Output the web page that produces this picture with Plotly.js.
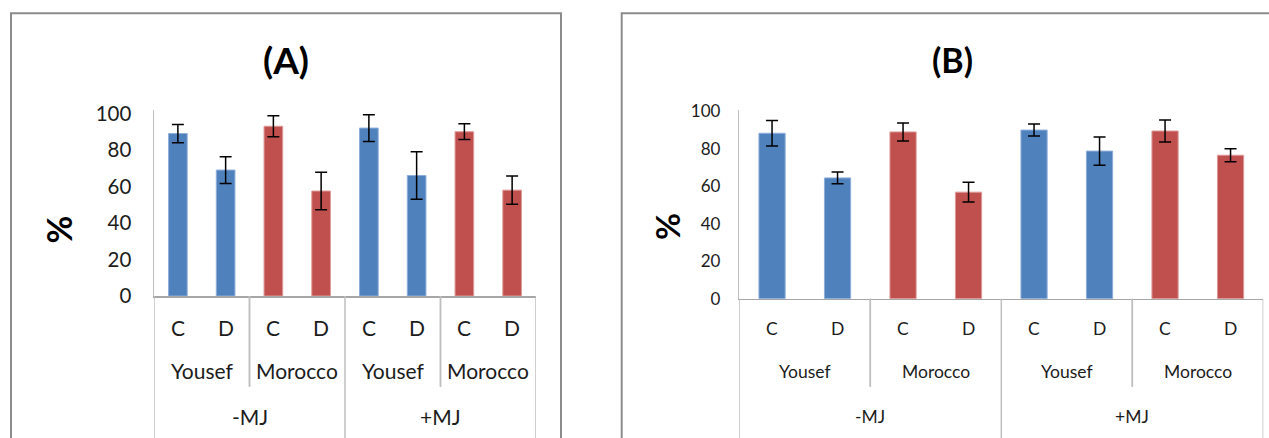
<!DOCTYPE html>
<html>
<head>
<meta charset="utf-8">
<script src="https://cdn.plot.ly/plotly-3.0.1.min.js"></script>
<style>
  html, body { margin: 0; padding: 0; background: #ffffff; }
  #chart { width: 1269px; height: 438px; }
</style>
</head>
<body>
<div id="chart"></div>
<script>
// ---- data ----
const treatments = ['-MJ', '-MJ', '-MJ', '-MJ', '+MJ', '+MJ', '+MJ', '+MJ'];
const cultivars  = ['Yousef', 'Yousef', 'Morocco', 'Morocco', 'Yousef', 'Yousef', 'Morocco', 'Morocco'];
const conditions = ['C', 'D', 'C', 'D', 'C', 'D', 'C', 'D'];

const valuesA = [89, 69, 93, 57.5, 92, 66, 90, 58];
const errorsA = [5, 7.3, 5.8, 10.3, 7.3, 13, 4.3, 7.7];

const valuesB = [88.2, 64.4, 88.9, 56.8, 89.9, 78.7, 89.4, 76.5];
const errorsB = [6.8, 3.1, 4.8, 5.3, 3.2, 7.5, 5.9, 3.5];

const yTicks = [0, 20, 40, 60, 80, 100];
const panelTitles = ['(A)', '(B)'];
const yTitle = '%';

// ---- styling ----
const W = 1269, H = 438;
const px = v => v / W;            // x pixel -> paper
const py = v => (H - v) / H;      // y pixel -> paper
const fillColors = { 'Yousef': '#4F81BD', 'Morocco': '#C0504D' };
const edgeColors = { 'Yousef': '#8EAEDA', 'Morocco': '#DE9A98' };
const FONT = 'Lato, "Open Sans", sans-serif';
const TEXT = '#1c1c1c';

const panels = [
  { xa: 'x',  ya: 'y',  values: valuesA, errors: errorsA, title: panelTitles[0],
    xdom: [px(154), px(536)], ydom: [py(296), py(110)], ymax: 101.9,
    tickSize: 20.5, catSize: 21, standoff: 17, titleSize: 37, pctSize: 34,
    box: [11, 561], titleX: 285.5, pctX: 58.5, pctY: 229,
    rows: [327.7, 370.7, 416.7], baseY: 296, innerEnd: 386.7, barW: 0.39 },
  { xa: 'x2', ya: 'y2', values: valuesB, errors: errorsB, title: panelTitles[1],
    xdom: [px(739.3), px(1263.3)], ydom: [py(298.7), py(110)], ymax: 100.6,
    tickSize: 17, catSize: 17.5, standoff: 14, titleSize: 34, pctSize: 33,
    box: [621.7, 1300], titleX: 952, pctX: 667, pctY: 227,
    rows: [328.3, 371.7, 416.7], baseY: 298.7, innerEnd: 386.7, barW: 0.40 }
];

function runs(arr) {
  const out = [];
  arr.forEach((v, i) => {
    if (out.length && out[out.length - 1].label === v) out[out.length - 1].end = i;
    else out.push({ label: v, start: i, end: i });
  });
  return out;
}

const idx = conditions.map((_, i) => i);
const traces = [];
const annotations = [];
const shapes = [];
const layout = {
  width: W, height: H,
  margin: { l: 0, r: 0, t: 0, b: 0 },
  paper_bgcolor: '#ffffff', plot_bgcolor: 'rgba(0,0,0,0)',
  showlegend: false,
  bargap: 0.6,
  font: { family: FONT, color: TEXT },
  annotations: annotations, shapes: shapes
};

panels.forEach((p, k) => {
  const xName = k === 0 ? 'xaxis' : 'xaxis2';
  const yName = k === 0 ? 'yaxis' : 'yaxis2';
  traces.push({
    type: 'bar', x: idx, y: p.values, xaxis: p.xa, yaxis: p.ya,
    width: p.barW,
    marker: { color: cultivars.map(c => fillColors[c]),
              line: { color: cultivars.map(c => edgeColors[c]), width: 1 } },
    error_y: { type: 'data', array: p.errors, visible: true, color: '#000000', thickness: 1.5, width: 6 },
    hoverinfo: 'skip'
  });
  layout[xName] = {
    domain: p.xdom, range: [-0.5, 7.5], anchor: p.ya,
    showticklabels: false, ticks: '', showgrid: false, zeroline: false,
    showline: true, linecolor: '#A6A6A6', linewidth: 1.5, fixedrange: true
  };
  layout[yName] = {
    domain: p.ydom, range: [0, p.ymax], anchor: p.xa,
    tickvals: yTicks, ticktext: yTicks.map(String), ticks: '',
    tickfont: { family: FONT, size: p.tickSize, color: TEXT },
    ticklabelstandoff: p.standoff,
    showgrid: false, zeroline: false,
    showline: true, linecolor: '#BFBFBF', linewidth: 1.5, fixedrange: true
  };

  // panel border
  shapes.push({ type: 'rect', xref: 'paper', yref: 'paper',
    x0: px(p.box[0]), x1: px(p.box[1]), y0: -0.2, y1: py(13.3),
    line: { color: '#8C8C8C', width: 2 }, fillcolor: 'rgba(0,0,0,0)', layer: 'below' });

  // title
  annotations.push({ text: '<b>' + p.title + '</b>', xref: 'paper', yref: 'paper',
    x: px(p.titleX), y: py(59.5), xanchor: 'center', yanchor: 'middle', showarrow: false,
    font: { family: FONT, size: p.titleSize, color: '#000000' } });
  // y title
  annotations.push({ text: '<b>' + yTitle + '</b>', xref: 'paper', yref: 'paper',
    x: px(p.pctX), y: py(p.pctY), xanchor: 'center', yanchor: 'middle', showarrow: false,
    textangle: -90, font: { family: FONT, size: p.pctSize, color: '#000000' } });

  // condition labels (C / D)
  conditions.forEach((c, i) => {
    annotations.push({ text: c, xref: p.xa, yref: 'paper', x: i, y: py(p.rows[0]),
      xanchor: 'center', yanchor: 'middle', showarrow: false,
      font: { family: FONT, size: p.catSize, color: TEXT } });
  });
  // cultivar labels
  const cRuns = runs(cultivars.map((c, i) => treatments[i] + '|' + c));
  cRuns.forEach(r => {
    annotations.push({ text: r.label.split('|')[1], xref: p.xa, yref: 'paper',
      x: (r.start + r.end) / 2, y: py(p.rows[1]),
      xanchor: 'center', yanchor: 'middle', showarrow: false,
      font: { family: FONT, size: p.catSize, color: TEXT } });
  });
  // treatment labels
  const tRuns = runs(treatments);
  tRuns.forEach(r => {
    annotations.push({ text: r.label, xref: p.xa, yref: 'paper',
      x: (r.start + r.end) / 2, y: py(p.rows[2]),
      xanchor: 'center', yanchor: 'middle', showarrow: false,
      font: { family: FONT, size: p.catSize, color: TEXT } });
  });

  // separators: outer (treatment) lines to the bottom, inner (cultivar) lines shorter
  const outer = new Set();
  tRuns.forEach(r => { outer.add(r.start - 0.5); outer.add(r.end + 0.5); });
  outer.forEach(xv => {
    shapes.push({ type: 'line', xref: p.xa, yref: 'paper', x0: xv, x1: xv,
      y0: py(p.baseY), y1: -0.05, line: { color: '#BFBFBF', width: 1.5 } });
  });
  cRuns.forEach(r => {
    [r.start - 0.5, r.end + 0.5].forEach(xv => {
      if (!outer.has(xv)) {
        shapes.push({ type: 'line', xref: p.xa, yref: 'paper', x0: xv, x1: xv,
          y0: py(p.baseY), y1: py(p.innerEnd), line: { color: '#BFBFBF', width: 1.5 } });
      }
    });
  });
});

Plotly.newPlot('chart', traces, layout, { staticPlot: true, displayModeBar: false });
</script>
</body>
</html>
